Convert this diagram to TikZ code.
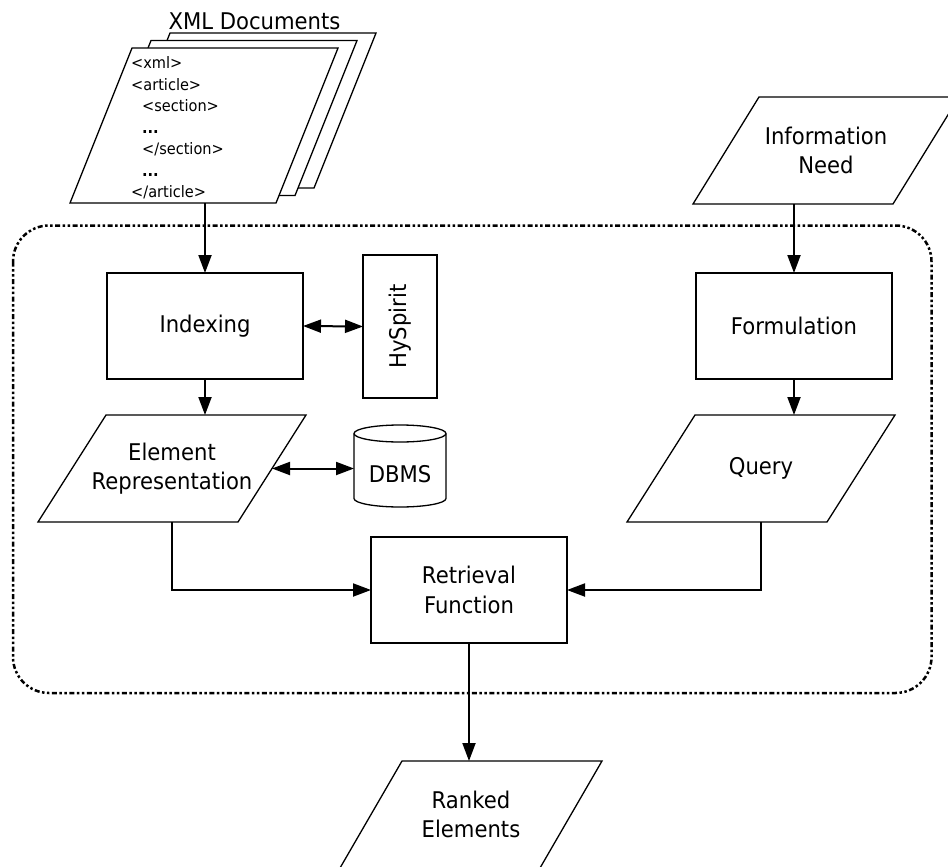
\documentclass[tikz,border=0pt]{standalone}
\usepackage{fontspec}
\setmainfont{DejaVu Sans}[FakeStretch=0.92]
\usetikzlibrary{arrows.meta,calc}

% parallelogram drawn on the bounding box of a named node: #1 node, #2 slant, #3 extra options
\newcommand\paraoutline[3]{%
  \draw[box,#3] ($(#1.north west)+(#2,0)$) -- (#1.north east)
     -- ($(#1.south east)-(#2,0)$) -- (#1.south west) -- cycle;}

\begin{document}
\begin{tikzpicture}[x=1pt,y=-1pt,
  box/.style={draw=black,line width=1.3pt,line join=miter},
  lbl/.style={font=\fontsize{23}{29.5}\selectfont,align=center,inner sep=0pt,outer sep=0pt},
  proc/.style={lbl,box,minimum width=196pt,minimum height=106pt},
  para/.style={lbl,minimum height=107pt},
  code/.style={font=\fontsize{15.8}{21.5}\selectfont,inner sep=0pt,anchor=base west},
  conn/.style={line width=2pt,-{Triangle[length=18pt,width=13pt]}},
  dconn/.style={line width=2pt,{Triangle[length=18pt,width=13pt]}-{Triangle[length=18pt,width=13pt]}},
  frame/.style={line width=2.5pt,rounded corners=36pt,
     dash pattern=on 5pt off 2.5pt on 2.5pt off 2.5pt on 2.5pt off 2.5pt}]
\useasboundingbox (0,0) rectangle (948,867);
\clip (0,0) rectangle (948,867);

% dotted system frame
\draw[frame] (13,225.5) rectangle (931.5,693);

% stack of XML documents
\node[lbl] (xmltitle) at (254.5,21.5) {XML Documents};
\node[para,minimum width=268pt,minimum height=155pt] (xb) at (242,110.5) {};
\node[para,minimum width=268pt,minimum height=155pt] (xm) at (223,118) {};
\node[para,minimum width=268pt,minimum height=155pt] (xf) at (204,125.5) {};
\paraoutline{xb}{62}{fill=white}
\paraoutline{xm}{62}{fill=white}
\paraoutline{xf}{62}{fill=white}
\node[code] (l1) at (131,68.5) {<xml>};
\node[code] (l2) at (131,90) {<article>};
\node[code] (l3) at (142,111.5) {<section>};
\node[code] (l4) at (142,133) {\textbf{...}};
\node[code] (l5) at (142,154.5) {</section>};
\node[code] (l6) at (142,176) {\textbf{...}};
\node[code] (l7) at (131,197.5) {</article>};

% information need
\node[para,minimum width=266pt] (need) at (826,150.5) {Information\\Need};
\paraoutline{need}{66}{}

% process boxes
\node[proc] (idx) at (205,326) {Indexing};
\node[proc] (form) at (794,326) {Formulation};
\node[proc] (ret) at (469,590) {Retrieval\\Function};
\node[lbl,box,minimum width=74pt,minimum height=143pt] (hy) at (400,326.5) {\rotatebox{90}{HySpirit}};

% data parallelograms
\node[para,minimum width=268pt] (er) at (172,468.5) {Element\\Representation};
\paraoutline{er}{68}{}
\node[para,minimum width=268pt] (qry) at (761,468.5) {Query};
\paraoutline{qry}{68}{}
\node[para,minimum width=262pt] (rank) at (471,814.5) {Ranked\\Elements};
\paraoutline{rank}{62}{}

% database cylinder
\draw[box,fill=white] (354,433.5) -- (354,498.5)
   arc[start angle=180,end angle=0,x radius=46,y radius=8.5] -- (446,433.5)
   arc[start angle=0,end angle=-180,x radius=46,y radius=8.5] -- cycle;
\draw[box] (354,433.5) arc[start angle=180,end angle=0,x radius=46,y radius=8.5];
\node[lbl,minimum width=92pt,minimum height=65pt] (db) at (400,474.5) {DBMS};

% connectors
\draw[conn] (idx.north |- xf.south) -- (idx.north);
\draw[conn] (form.north |- need.south) -- (form.north);
\draw[dconn] (idx.east) -- (hy.west);
\draw[conn] (idx.south) -- (idx.south |- er.north);
\draw[conn] (form.south) -- (form.south |- qry.north);
\draw[dconn] ($(er.east)+(-34,0)$) -- (db.west |- er.east);
\draw[conn] (er.south) |- (ret.west);
\draw[conn] (qry.south) |- (ret.east);
\draw[conn] (ret.south) -- (ret.south |- rank.north);
\end{tikzpicture}
\end{document}
